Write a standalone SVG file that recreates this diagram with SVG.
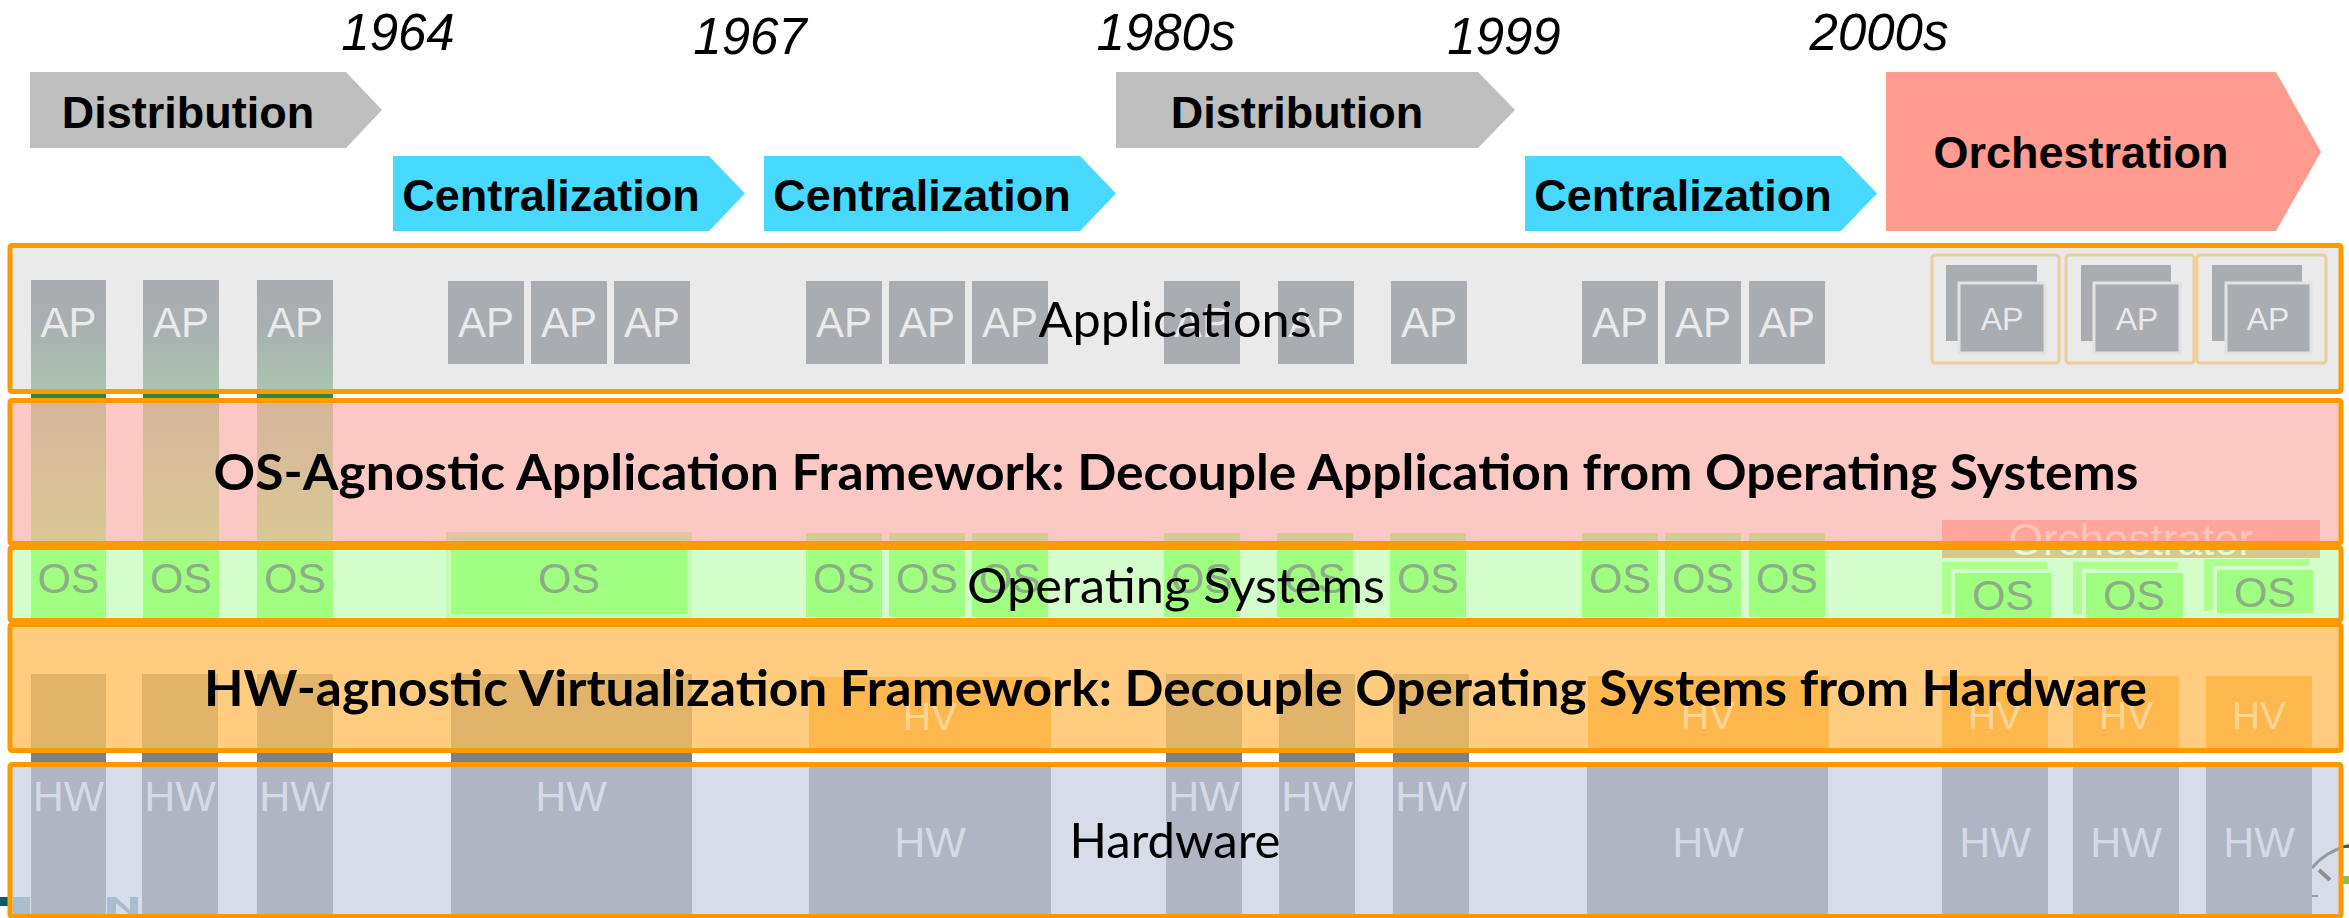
<svg xmlns="http://www.w3.org/2000/svg" width="2349" height="918" viewBox="0 0 2349 918">
<defs>
<style>
.yr{font-family:"Liberation Sans",Arial,sans-serif;font-style:italic;font-size:51px;text-anchor:middle;fill:#000}
.ph{font-family:"Liberation Sans",Arial,sans-serif;font-weight:bold;font-size:45px;text-anchor:middle;fill:#000}
.dist{fill:#BFBFBF}
.cent{fill:#47D9FF}
.orch{fill:#FF9B8F}
.ap{fill:#A9ACB1}
.apt{font-family:"Liberation Sans",Arial,sans-serif;font-size:42px;fill:#E9EAEC;text-anchor:middle}
.apts{font-family:"Liberation Sans",Arial,sans-serif;font-size:32px;fill:#E9EAEC;text-anchor:middle}
.os{fill:#A0FF80}
.osb{fill:#ADFF8E}
.ost{font-family:"Liberation Sans",Arial,sans-serif;font-size:43px;fill:#8DAD89;text-anchor:middle}
.tan{fill:#D9C796}
.hvc{fill:#E2B46A}
.hv{fill:#FFB84E}
.hvt{font-family:"Liberation Sans",Arial,sans-serif;font-size:39px;fill:#FFD596;text-anchor:middle}
.hw{fill:#AFB5C2}
.hwt{font-family:"Liberation Sans",Arial,sans-serif;font-size:43px;fill:#D5DBE6;text-anchor:middle}
.gap{fill:#808080}
.lbl{font-family:Lato,"Open Sans",sans-serif;font-size:49px;text-anchor:middle;fill:#000}
.lblb{font-family:Lato,"Open Sans",sans-serif;font-weight:bold;font-size:50px;text-anchor:middle;fill:#000}
.bd{fill:none;stroke:#FF9900;stroke-width:5}
.ctr{fill:none;stroke:#EDCE9B;stroke-width:3}
.apf{fill:#A9ACB1;stroke:#E2E2E4;stroke-width:3}
.osf{fill:#A0FF80;stroke:#D3FDCB;stroke-width:4}
</style>
<linearGradient id="apg" x1="0" y1="0" x2="0" y2="1">
<stop offset="0" stop-color="#A9ACB1"/>
<stop offset="0.4" stop-color="#A9AFB1"/>
<stop offset="1" stop-color="#ABC5B0"/>
</linearGradient>
<linearGradient id="tg" x1="0" y1="0" x2="0" y2="1">
<stop offset="0" stop-color="#D5B59B"/>
<stop offset="1" stop-color="#D9C894"/>
</linearGradient>
<clipPath id="ctop"><rect x="1900" y="500" width="440" height="45"/></clipPath>
<clipPath id="cbot"><rect x="1900" y="545" width="440" height="30"/></clipPath>
</defs>
<rect width="2349" height="918" fill="#FFFFFF"/>

<g id="years">
<text class="yr" x="398" y="50">1964</text>
<text class="yr" x="750" y="54">1967</text>
<text class="yr" x="1166" y="50">1980s</text>
<text class="yr" x="1504" y="54">1999</text>
<text class="yr" x="1879" y="50">2000s</text>
</g>

<g id="phase-distribution-1">
<polygon class="dist" points="30,72 346,72 382,110 346,148 30,148"/>
<text class="ph" x="188" y="128">Distribution</text>
</g>
<g id="phase-centralization-1">
<polygon class="cent" points="393,156 709,156 745,193.5 709,231 393,231"/>
<text class="ph" x="551" y="211">Centralization</text>
</g>
<g id="phase-centralization-2">
<polygon class="cent" points="764,156 1080,156 1116,193.5 1080,231 764,231"/>
<text class="ph" x="922" y="211">Centralization</text>
</g>
<g id="phase-distribution-2">
<polygon class="dist" points="1116,72 1478,72 1515,110 1478,148 1116,148"/>
<text class="ph" x="1297" y="128">Distribution</text>
</g>
<g id="phase-centralization-3">
<polygon class="cent" points="1525,156 1841,156 1877,193.5 1841,231 1525,231"/>
<text class="ph" x="1683" y="211">Centralization</text>
</g>
<g id="phase-orchestration">
<polygon class="orch" points="1886,72 2276,72 2321,152 2276,231 1886,231"/>
<text class="ph" x="2081" y="168">Orchestration</text>
</g>

<g id="layer-fills">
<rect x="10" y="245.5" width="2331" height="146" fill="#EAEAEA"/>
<rect x="10" y="400.5" width="2331" height="145" fill="#FCC8C3"/>
<rect x="10" y="545" width="2331" height="77" fill="#D3FDCB"/>
<rect x="10" y="622" width="2331" height="128.5" fill="#FFCC80"/>
<rect x="10" y="764.5" width="2331" height="152" fill="#D6DCE8"/>
</g>

<g id="corner-fragments">
<rect x="0" y="897" width="8" height="9" fill="#0E5A6E"/>
<rect x="13" y="897" width="17" height="18" fill="#97AEC3" opacity="0.7"/>
<polygon points="107,897 116,897 130,910 130,897 138,897 138,915 130,915 116,903 116,915 107,915" fill="#97AEC3" opacity="0.7"/>
<path d="M2312,868 Q2325,852 2349,845" fill="none" stroke="#9A9A9A" stroke-width="3"/>
<line x1="2319" y1="870" x2="2330" y2="880" stroke="#8E8E8E" stroke-width="4"/>
<line x1="2312" y1="896" x2="2318" y2="896" stroke="#9A9A9A" stroke-width="2"/>
<rect x="2343" y="876" width="6" height="8" fill="#8BC34A"/>
<rect x="2343" y="845" width="6" height="3" fill="#555"/>
</g>

<g id="group-distribution-1964">
<g id="col-1">
<rect x="31" y="280" width="75" height="114" fill="url(#apg)"/>
<rect x="31" y="394" width="75" height="4" fill="#2E8B3A"/>
<rect x="31" y="398" width="75" height="147" fill="url(#tg)"/>
<rect class="os" x="31" y="545" width="75" height="75"/>
<rect class="hvc" x="31" y="674" width="75" height="77"/>
<rect class="gap" x="31" y="751" width="75" height="12"/>
<rect class="hw" x="31" y="763" width="75" height="153"/>
<text class="apt" x="68.5" y="337">AP</text>
<text class="ost" x="68.5" y="593">OS</text>
<text class="hwt" x="68.5" y="811">HW</text>
</g>
<g id="col-2">
<rect x="143" y="280" width="76" height="114" fill="url(#apg)"/>
<rect x="143" y="394" width="76" height="4" fill="#2E8B3A"/>
<rect x="143" y="398" width="76" height="147" fill="url(#tg)"/>
<rect class="os" x="143" y="545" width="76" height="75"/>
<rect class="hvc" x="142" y="674" width="76" height="77"/>
<rect class="gap" x="142" y="751" width="76" height="12"/>
<rect class="hw" x="142" y="763" width="76" height="153"/>
<text class="apt" x="181" y="337">AP</text>
<text class="ost" x="181" y="593">OS</text>
<text class="hwt" x="180" y="811">HW</text>
</g>
<g id="col-3">
<rect x="257" y="280" width="76" height="114" fill="url(#apg)"/>
<rect x="257" y="394" width="76" height="4" fill="#2E8B3A"/>
<rect x="257" y="398" width="76" height="147" fill="url(#tg)"/>
<rect class="os" x="257" y="545" width="76" height="75"/>
<rect class="hvc" x="257" y="674" width="76" height="77"/>
<rect class="gap" x="257" y="751" width="76" height="12"/>
<rect class="hw" x="257" y="763" width="76" height="153"/>
<text class="apt" x="295" y="337">AP</text>
<text class="ost" x="295" y="593">OS</text>
<text class="hwt" x="295" y="811">HW</text>
</g>
</g>

<g id="group-mainframe">
<rect class="ap" x="448" y="281" width="76" height="83"/>
<rect class="ap" x="531" y="281" width="76" height="83"/>
<rect class="ap" x="614" y="281" width="76" height="83"/>
<text class="apt" x="486" y="337">AP</text>
<text class="apt" x="569" y="337">AP</text>
<text class="apt" x="652" y="337">AP</text>
<rect x="446" y="532" width="246" height="14" fill="#E2C3A8"/>
<rect class="tan" x="451" y="537" width="236" height="9"/>
<rect x="446" y="545" width="246" height="73" fill="#C6FBB4"/>
<rect class="os" x="451" y="545" width="236" height="69"/>
<text class="ost" x="569" y="593">OS</text>
<rect class="hvc" x="451" y="674" width="241" height="77"/>
<rect class="gap" x="451" y="751" width="241" height="12"/>
<rect class="hw" x="451" y="763" width="241" height="153"/>
<text class="hwt" x="571" y="811">HW</text>
</g>

<g id="group-virtualization-1967">
<rect class="ap" x="806" y="281" width="76" height="83"/>
<rect class="ap" x="889" y="281" width="76" height="83"/>
<rect class="ap" x="972" y="281" width="76" height="83"/>
<text class="apt" x="844" y="337">AP</text>
<text class="apt" x="927" y="337">AP</text>
<text class="apt" x="1010" y="337">AP</text>
<rect class="tan" x="806" y="533" width="76" height="13"/>
<rect class="tan" x="889" y="533" width="76" height="13"/>
<rect class="tan" x="972" y="533" width="76" height="13"/>
<rect class="os" x="806" y="545" width="76" height="72"/>
<rect class="os" x="889" y="545" width="76" height="72"/>
<rect class="os" x="972" y="545" width="76" height="72"/>
<text class="ost" x="844" y="593">OS</text>
<text class="ost" x="927" y="593">OS</text>
<text class="ost" x="1010" y="593">OS</text>
<rect class="hv" x="809" y="677" width="242" height="75"/>
<text class="hvt" x="930" y="730">HV</text>
<rect class="hw" x="809" y="763" width="242" height="153"/>
<text class="hwt" x="930" y="857">HW</text>
</g>

<g id="group-distribution-1980s">
<rect class="ap" x="1164" y="281" width="76" height="83"/>
<rect class="ap" x="1278" y="281" width="76" height="83"/>
<rect class="ap" x="1391" y="281" width="76" height="83"/>
<text class="apt" x="1202" y="337">AP</text>
<text class="apt" x="1316" y="337">AP</text>
<text class="apt" x="1429" y="337">AP</text>
<rect class="tan" x="1164" y="533" width="76" height="13"/>
<rect class="tan" x="1277" y="533" width="76" height="13"/>
<rect class="tan" x="1390" y="533" width="76" height="13"/>
<rect class="os" x="1164" y="545" width="76" height="72"/>
<rect class="os" x="1277" y="545" width="76" height="72"/>
<rect class="os" x="1390" y="545" width="76" height="72"/>
<text class="ost" x="1202" y="593">OS</text>
<text class="ost" x="1315" y="593">OS</text>
<text class="ost" x="1428" y="593">OS</text>
<rect class="hvc" x="1166" y="674" width="76" height="77"/>
<rect class="hvc" x="1279" y="674" width="76" height="77"/>
<rect class="hvc" x="1393" y="674" width="76" height="77"/>
<rect class="gap" x="1166" y="751" width="76" height="12"/>
<rect class="gap" x="1279" y="751" width="76" height="12"/>
<rect class="gap" x="1393" y="751" width="76" height="12"/>
<rect class="hw" x="1166" y="763" width="76" height="153"/>
<rect class="hw" x="1279" y="763" width="76" height="153"/>
<rect class="hw" x="1393" y="763" width="76" height="153"/>
<text class="hwt" x="1204" y="811">HW</text>
<text class="hwt" x="1317" y="811">HW</text>
<text class="hwt" x="1431" y="811">HW</text>
</g>

<g id="group-consolidation-1999">
<rect class="ap" x="1582" y="281" width="76" height="83"/>
<rect class="ap" x="1665" y="281" width="76" height="83"/>
<rect class="ap" x="1749" y="281" width="76" height="83"/>
<text class="apt" x="1620" y="337">AP</text>
<text class="apt" x="1703" y="337">AP</text>
<text class="apt" x="1787" y="337">AP</text>
<rect class="tan" x="1582" y="533" width="76" height="13"/>
<rect class="tan" x="1665" y="533" width="76" height="13"/>
<rect class="tan" x="1749" y="533" width="76" height="13"/>
<rect class="os" x="1582" y="545" width="76" height="72"/>
<rect class="os" x="1665" y="545" width="76" height="72"/>
<rect class="os" x="1749" y="545" width="76" height="72"/>
<text class="ost" x="1620" y="593">OS</text>
<text class="ost" x="1703" y="593">OS</text>
<text class="ost" x="1787" y="593">OS</text>
<rect class="hv" x="1588" y="676" width="241" height="74"/>
<text class="hvt" x="1708" y="729">HV</text>
<rect class="hw" x="1587" y="763" width="241" height="153"/>
<text class="hwt" x="1708" y="857">HW</text>
</g>

<g id="group-orchestration-2000s">
<g id="orch-stack-1">
<rect class="ctr" x="1932" y="255" width="127" height="108" rx="3"/>
<rect class="ap" x="1946" y="265" width="91" height="76"/>
<rect class="apf" x="1959" y="283" width="86" height="70"/>
<text class="apts" x="2002" y="330">AP</text>
<rect class="osb" x="1942" y="562" width="105" height="52"/>
<rect class="osf" x="1953" y="571" width="100" height="49"/>
<text class="ost" x="2003" y="610">OS</text>
<rect class="hv" x="1942" y="676" width="106" height="74"/>
<text class="hvt" x="1995" y="729">HV</text>
<rect class="hw" x="1942" y="763" width="106" height="153"/>
<text class="hwt" x="1995" y="857">HW</text>
</g>
<g id="orch-stack-2">
<rect class="ctr" x="2066" y="255" width="128" height="108" rx="3"/>
<rect class="ap" x="2081" y="265" width="90" height="76"/>
<rect class="apf" x="2094" y="283" width="86" height="70"/>
<text class="apts" x="2137" y="330">AP</text>
<rect class="osb" x="2073" y="562" width="105" height="52"/>
<rect class="osf" x="2084" y="571" width="101" height="49"/>
<text class="ost" x="2134" y="610">OS</text>
<rect class="hv" x="2073" y="676" width="106" height="74"/>
<text class="hvt" x="2126" y="729">HV</text>
<rect class="hw" x="2073" y="763" width="106" height="153"/>
<text class="hwt" x="2126" y="857">HW</text>
</g>
<g id="orch-stack-3">
<rect class="ctr" x="2197" y="255" width="129" height="108" rx="3"/>
<rect class="ap" x="2212" y="265" width="90" height="76"/>
<rect class="apf" x="2226" y="283" width="85" height="70"/>
<text class="apts" x="2268" y="330">AP</text>
<rect class="osb" x="2204" y="559" width="106" height="52"/>
<rect class="osf" x="2215" y="568" width="100" height="47"/>
<text class="ost" x="2265" y="607">OS</text>
<rect class="hv" x="2206" y="676" width="106" height="74"/>
<text class="hvt" x="2259" y="729">HV</text>
<rect class="hw" x="2206" y="763" width="106" height="153"/>
<text class="hwt" x="2259" y="857">HW</text>
</g>
<g id="orchestrator">
<rect x="1942" y="520" width="378" height="25" fill="#FFA59C"/>
<rect x="1942" y="545" width="378" height="13" fill="#D5C98F"/>
<text clip-path="url(#ctop)" x="2131" y="555" font-family="Liberation Sans, Arial, sans-serif" font-size="44" text-anchor="middle" fill="#FFC3BA">Orchestrator</text>
<text clip-path="url(#cbot)" x="2131" y="555" font-family="Liberation Sans, Arial, sans-serif" font-size="44" text-anchor="middle" fill="#E6F7D2">Orchestrator</text>
</g>
</g>

<g id="layer-labels">
<text class="lbl" x="1175" y="337" textLength="273" lengthAdjust="spacingAndGlyphs">Applications</text>
<text class="lblb" x="1176" y="490" textLength="1925" lengthAdjust="spacingAndGlyphs">OS-Agnostic Application Framework: Decouple Application from Operating Systems</text>
<text class="lbl" x="1176" y="603" textLength="418" lengthAdjust="spacingAndGlyphs">Operating Systems</text>
<text class="lblb" x="1175.5" y="706" textLength="1943" lengthAdjust="spacingAndGlyphs">HW-agnostic Virtualization Framework: Decouple Operating Systems from Hardware</text>
<text class="lbl" x="1175" y="858" textLength="211" lengthAdjust="spacingAndGlyphs">Hardware</text>
</g>

<g id="layer-borders">
<rect class="bd" x="10" y="245.5" width="2331" height="146" rx="2"/>
<rect class="bd" x="10" y="400.5" width="2331" height="143" rx="2"/>
<rect class="bd" x="10" y="547.5" width="2331" height="73" rx="2"/>
<rect class="bd" x="10" y="624.5" width="2331" height="126" rx="2"/>
<rect class="bd" x="10" y="764.5" width="2331" height="152" rx="2"/>
</g>
</svg>
